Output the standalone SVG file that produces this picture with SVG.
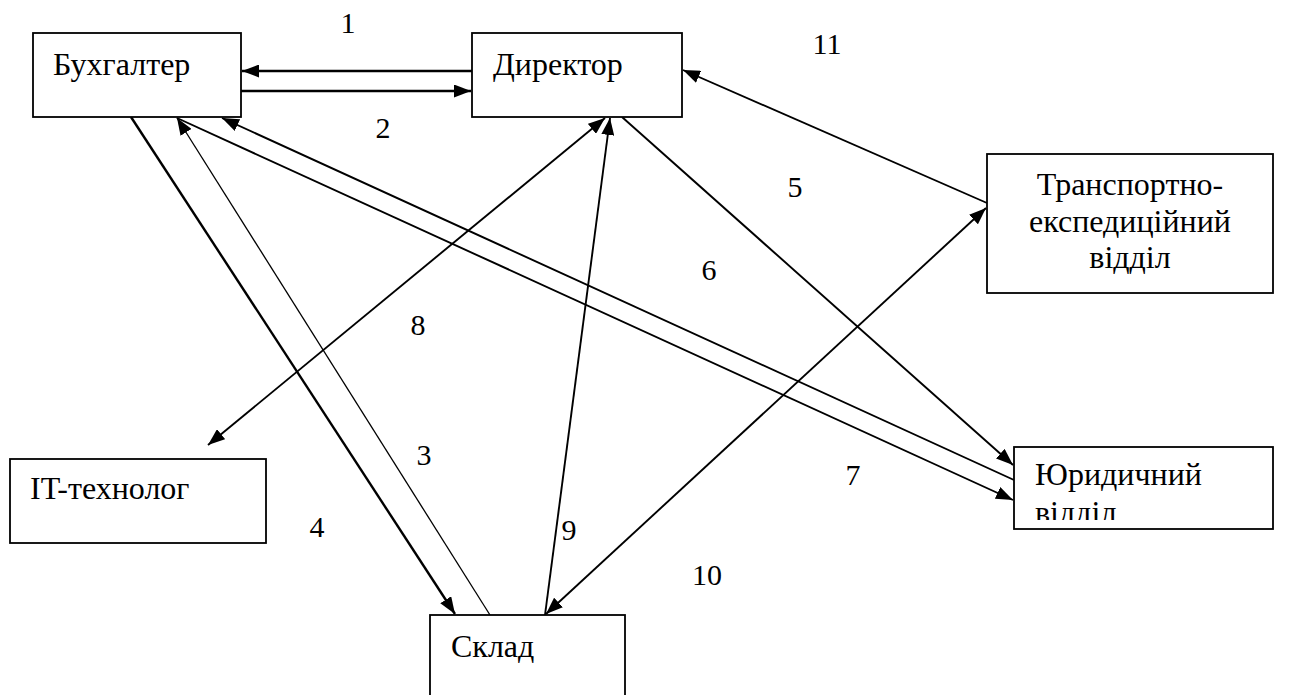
<svg xmlns="http://www.w3.org/2000/svg" width="1294" height="695" viewBox="0 0 1294 695">
  <style>
    .box { fill: #fff; stroke: #000; stroke-width: 1.8; }
    .lbl { font-family: "Liberation Serif", "Times New Roman", serif; font-size: 32px; fill: #000; }
    .num { font-family: "Liberation Serif", "Times New Roman", serif; font-size: 30px; fill: #000; text-anchor: middle; }
    .ln { fill: none; stroke: #000; stroke-width: 1.9; }
    .thin { stroke-width: 1.3; }
    .thick { stroke-width: 2.4; }
  </style>
  <defs>
    <!-- solid triangular arrowhead, reused at either end of a connector -->
    <marker id="ah" viewBox="0 0 17 13" refX="17" refY="6.5" markerWidth="17" markerHeight="13" markerUnits="userSpaceOnUse" orient="auto-start-reverse">
      <path d="M0,0 L17,6.5 L0,13 Z" fill="#000"/>
    </marker>
    <!-- the legal department's second text line is cut by the box interior -->
    <clipPath id="yurClip">
      <rect x="1015" y="448" width="257" height="72"/>
    </clipPath>
  </defs>

  <rect width="1294" height="695" fill="#fff"/>

  <g id="connectors">
    <line class="ln thick" x1="472" y1="71" x2="242" y2="71" marker-end="url(#ah)"/>
    <line class="ln thick" x1="241" y1="91" x2="471" y2="91" marker-end="url(#ah)"/>
    <line class="ln thin" x1="490" y1="615" x2="177" y2="118" marker-end="url(#ah)"/>
    <line class="ln thick" x1="131" y1="117" x2="455" y2="614" marker-end="url(#ah)"/>
    <line class="ln" x1="177" y1="118" x2="1013" y2="500" marker-end="url(#ah)"/>
    <line class="ln" x1="1014" y1="480" x2="222" y2="118" marker-end="url(#ah)"/>
    <line class="ln" x1="622" y1="117" x2="1013" y2="465" marker-end="url(#ah)"/>
    <line class="ln" x1="605" y1="118" x2="208" y2="445" marker-start="url(#ah)" marker-end="url(#ah)"/>
    <line class="ln" x1="545" y1="615" x2="610" y2="118" marker-end="url(#ah)"/>
    <line class="ln" x1="987" y1="203" x2="683" y2="70" marker-end="url(#ah)"/>
    <line class="ln" x1="546" y1="614" x2="986" y2="208" marker-start="url(#ah)" marker-end="url(#ah)"/>
  </g>

  <g id="numbers">
    <text class="num" x="348" y="33">1</text>
    <text class="num" x="383" y="138">2</text>
    <text class="num" x="827" y="54">11</text>
    <text class="num" x="795" y="197">5</text>
    <text class="num" x="709" y="280">6</text>
    <text class="num" x="418" y="335">8</text>
    <text class="num" x="424" y="465">3</text>
    <text class="num" x="853" y="485">7</text>
    <text class="num" x="317" y="537">4</text>
    <text class="num" x="569" y="540">9</text>
    <text class="num" x="707" y="585">10</text>
  </g>

  <g id="buhgalter">
    <rect class="box" x="33" y="33" width="208" height="84"/>
    <text class="lbl" x="53" y="75">Бухгалтер</text>
  </g>

  <g id="dyrektor">
    <rect class="box" x="472" y="33" width="210" height="84"/>
    <text class="lbl" x="493" y="75">Директор</text>
  </g>

  <g id="transport">
    <rect class="box" x="987" y="154" width="286" height="139"/>
    <text class="lbl" x="1130" y="195" text-anchor="middle">Транспортно-</text>
    <text class="lbl" x="1130" y="232" text-anchor="middle">експедиційний</text>
    <text class="lbl" x="1130" y="268" text-anchor="middle">відділ</text>
  </g>

  <g id="yurydychnyi">
    <rect class="box" x="1014" y="447" width="259" height="82"/>
    <g clip-path="url(#yurClip)">
      <text class="lbl" x="1035" y="485">Юридичний</text>
      <text class="lbl" x="1035" y="523">відділ</text>
    </g>
  </g>

  <g id="it">
    <rect class="box" x="10" y="459" width="256" height="84"/>
    <text class="lbl" x="30" y="499">IT-технолог</text>
  </g>

  <g id="sklad">
    <rect class="box" x="430" y="615" width="195" height="90"/>
    <text class="lbl" x="451" y="657">Склад</text>
  </g>
</svg>
